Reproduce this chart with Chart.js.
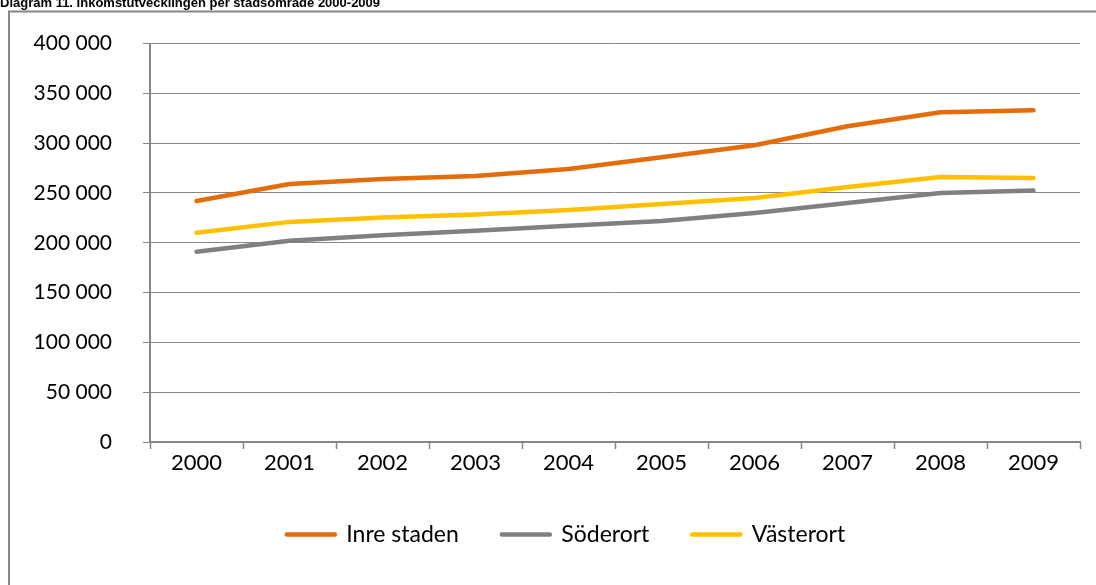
<!DOCTYPE html>
<html>
<head>
<meta charset="utf-8">
<script src="https://cdn.jsdelivr.net/npm/chart.js@4.4.1/dist/chart.umd.min.js"></script>
<style>
  html, body { margin: 0; padding: 0; background: #fff; }
  #wrap { width: 1096px; height: 585px; position: relative; }
</style>
</head>
<body>
<div id="wrap"><canvas id="incomeChart" width="1096" height="585"></canvas></div>
<script>
// Data (kronor)
const years = ['2000', '2001', '2002', '2003', '2004', '2005', '2006', '2007', '2008', '2009'];
const inreStaden = [242000, 259000, 264000, 267000, 274000, 286000, 298000, 317000, 331000, 333000];
const soderort = [191000, 202000, 207500, 212000, 217000, 222000, 230000, 240000, 250000, 252500];
const vasterort = [210000, 221000, 225500, 228500, 233000, 239000, 245000, 256000, 266000, 265000];
const titleText = 'Diagram 11. Inkomstutvecklingen per stadsområde 2000-2009';

const axisGray = '#868686';
const fontFam = 'Lato, "Open Sans", sans-serif';

// title (clipped at top) and the outer frame of the chart object
const framePlugin = {
    id: 'frame',
    afterLayout(chart) {
        // legend in the original sits a bit right of centre
        chart.legend.left += 52;
    },
    beforeDraw(chart) {
        const c = chart.ctx;
        c.save();
        c.fillStyle = '#fff';
        c.fillRect(0, 0, chart.width, chart.height);
        c.fillStyle = '#000';
        c.font = 'bold 13px "Liberation Sans", Arial, sans-serif';
        c.textBaseline = 'alphabetic';
        c.fillText(titleText, 0, 7);
        c.strokeStyle = axisGray;
        c.lineWidth = 2;
        c.beginPath();
        c.moveTo(9, 585);
        c.lineTo(9, 11.5);
        c.lineTo(1096, 11.5);
        c.stroke();
        c.restore();
    }
};

function spaced(v) {
    return String(v).replace(/\B(?=(\d{3})+(?!\d))/g, ' ');
}

const ctx = document.getElementById('incomeChart').getContext('2d');
const chart = new Chart(ctx, {
    type: 'line',
    data: {
        labels: years,
        datasets: [{
            label: 'Inre staden',
            data: inreStaden,
            borderColor: '#E46C0A',
            backgroundColor: '#E46C0A'
        }, {
            label: 'Söderort',
            data: soderort,
            borderColor: '#808080',
            backgroundColor: '#808080'
        }, {
            label: 'Västerort',
            data: vasterort,
            borderColor: '#FFC000',
            backgroundColor: '#FFC000'
        }]
    },
    options: {
        responsive: false,
        animation: false,
        devicePixelRatio: 1,
        layout: { padding: { left: 0, top: 40, right: 16, bottom: 29 } },
        elements: {
            line: { borderWidth: 4.5, borderCapStyle: 'round', borderJoinStyle: 'round', tension: 0, fill: false },
            point: { radius: 0, hoverRadius: 0 }
        },
        plugins: {
            tooltip: { enabled: false },
            legend: {
                position: 'bottom',
                labels: {
                    usePointStyle: true,
                    pointStyle: 'line',
                    pointStyleWidth: 48,
                    color: '#000',
                    padding: 43,
                    font: { family: fontFam, size: 23 },
                    generateLabels(chart) {
                        const items = Chart.defaults.plugins.legend.labels.generateLabels(chart);
                        items.forEach((it, i) => {
                            const col = chart.data.datasets[i].borderColor;
                            it.strokeStyle = col;
                            it.fillStyle = col;
                            it.lineWidth = 4.5;
                            it.lineCap = 'round';
                            it.pointStyle = 'line';
                        });
                        return items;
                    }
                }
            }
        },
        scales: {
            x: {
                offset: true,
                grid: {
                    offset: true,
                    drawOnChartArea: false,
                    drawTicks: true,
                    tickLength: 7,
                    tickColor: axisGray,
                    tickWidth: 1.5
                },
                border: { color: axisGray, width: 2 },
                ticks: {
                    color: '#000',
                    padding: 1,
                    maxRotation: 0,
                    font: { family: fontFam, size: 22 }
                },
                afterFit(scale) { scale.height = 38; }
            },
            y: {
                min: 0,
                max: 400000,
                grid: {
                    color: axisGray,
                    lineWidth: 1,
                    drawTicks: true,
                    tickLength: 7,
                    tickColor: axisGray
                },
                border: { color: axisGray, width: 2 },
                ticks: {
                    stepSize: 50000,
                    color: '#000',
                    padding: 31,
                    callback: (v) => spaced(v),
                    font: { family: fontFam, size: 21 }
                },
                afterFit(scale) { scale.width = 150; }
            }
        }
    },
    plugins: [framePlugin]
});
</script>
</body>
</html>
